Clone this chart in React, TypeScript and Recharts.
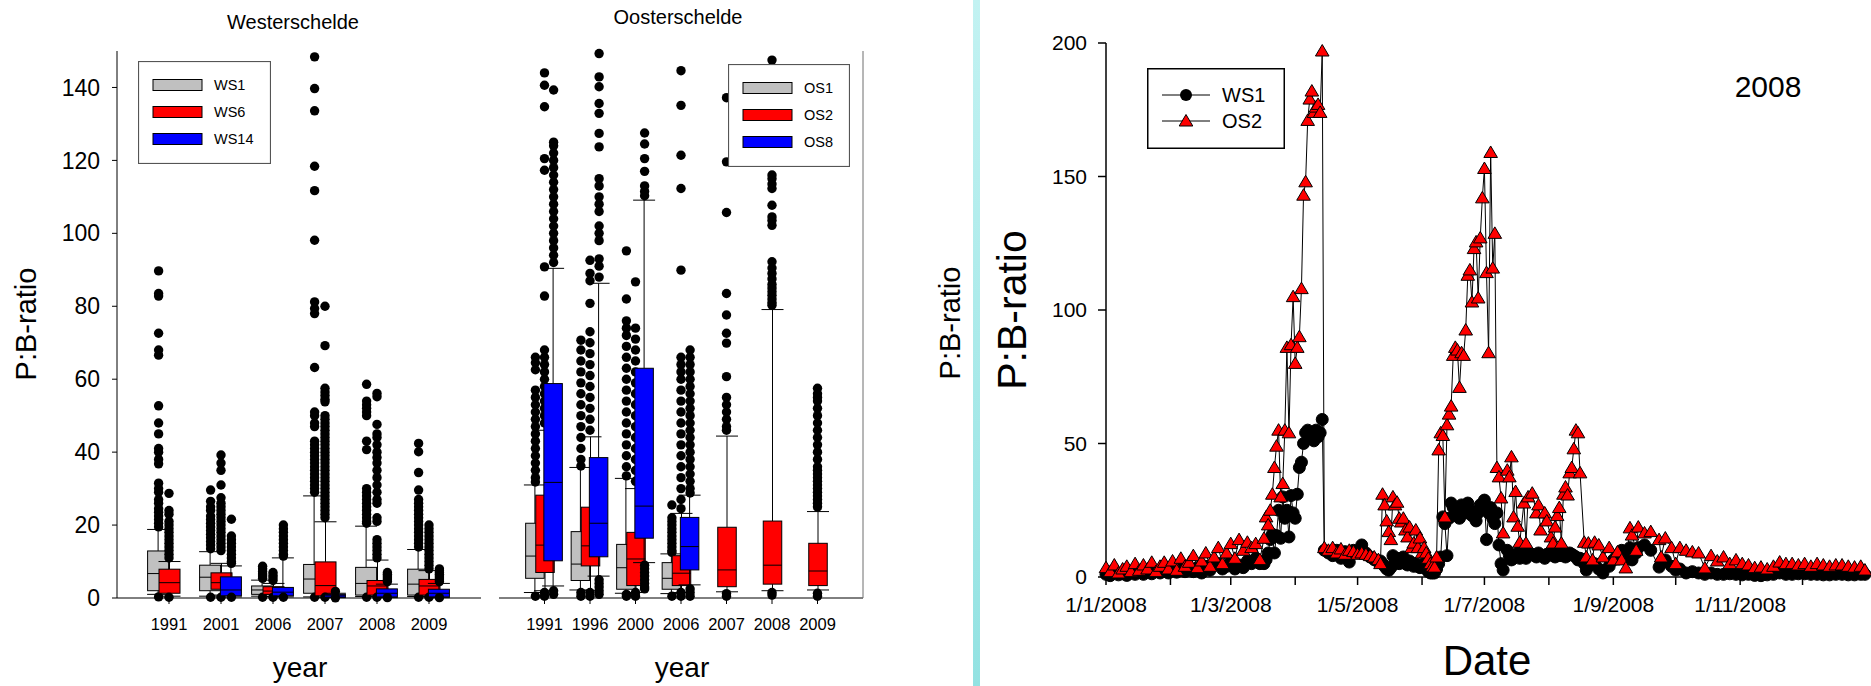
import React from 'react';
import { ComposedChart, Bar, Scatter, Line, XAxis, YAxis } from 'recharts';

const FONT = '"Liberation Sans", Arial, Helvetica, sans-serif';
const FRAME = '#6e6e6e';

// ---------- Westerschelde box plots ----------
const wsYears = ['1991', '2001', '2006', '2007', '2008', '2009'];
// [lower whisker, q1, median, q3, upper whisker]
const ws1Box = [
  [1.0, 2.0, 6.7, 12.9, 18.8], [0.5, 2.0, 5.7, 9.0, 12.7], [0.5, 1.0, 2.2, 3.3, 4.9],
  [0.3, 1.3, 5.2, 9.2, 28.0], [0.4, 0.8, 4.0, 8.4, 19.7], [0.4, 0.8, 3.8, 7.9, 13.3],
];
const ws6Box = [
  [0.5, 1.3, 4.2, 7.9, 10.0], [0.8, 2.4, 4.2, 6.9, 9.5], [0.4, 1.0, 1.9, 3.1, 4.0],
  [0.2, 0.6, 3.4, 9.9, 20.9], [0.3, 0.8, 3.3, 4.8, 10.4], [0.3, 0.8, 3.3, 5.1, 7.5],
];
const ws14Box = [
  null, [0.3, 0.6, 2.2, 5.8, 8.8], [0.3, 0.6, 1.6, 2.9, 11.0],
  [0.1, 0.2, 0.6, 1.0, 1.3], [0.1, 0.3, 1.3, 2.5, 3.8], [0.1, 0.3, 1.3, 2.4, 4.0],
];
const ws1Out = [
  [89.7, 83.5, 82.8, 72.6, 68, 66.6, 52.7, 48, 45, 41, 40, 38, 36.8, 31.5, 30, 29, 27, 26, 24.5, 23.5, 22.5, 21.5, 20.5, 19.5, 0.3],
  [29.6, 26.5, 25, 24, 22.5, 21.5, 20.5, 19.5, 18.5, 17.5, 16.5, 15.5, 14.5, 13.5, 0.2],
  [8.7, 8, 7.3, 6.6, 6, 5.4, 0.2],
  [148.4, 139.7, 133.6, 118.4, 111.7, 98.1, 81.2, 79.4, 78, 63.2, 51, 50, 48, 47, 43, 42, 41, 40, 39, 38, 37, 36, 35, 34, 33, 32, 31, 30, 29, 0.2],
  [58.6, 54, 53, 52, 51, 50, 43, 40.7, 30, 29, 28, 27, 26, 25, 24, 23, 22, 21, 20.5, 0.2],
  [42.4, 40.1, 34.4, 29.6, 27, 26, 25, 24, 23, 22, 21, 20, 19, 18, 17, 16, 15, 14, 0.2],
];
const ws6Out = [
  [28.7, 24, 23, 21, 20, 19, 18, 17, 16, 15, 14, 13, 12, 11, 0.2],
  [39.2, 37, 35, 31, 27.5, 26, 25, 24, 23, 22, 21, 20, 19, 18, 17, 16, 15, 14, 13, 0.2],
  [7, 6.2, 5.5, 4.8, 0.2],
  [80, 69.2, 57.5, 56.5, 55.5, 54.5, 53.8, 50, 49, 48, 47, 46, 45, 44, 43, 42, 41, 40, 39, 38, 37, 36, 35, 34, 33, 32, 31, 30, 29, 28, 27, 26, 25, 24, 23, 22, 0.2],
  [56.1, 55.2, 47.6, 45, 44, 42, 40, 38.5, 37, 35, 33, 31, 29, 27, 26, 22, 21, 16, 15, 14, 13, 12, 11, 0.2],
  [20, 19, 18, 17, 16, 15, 14, 13, 12, 11, 10, 9, 8, 0.2],
];
const ws14Out = [
  [],
  [21.6, 17, 16, 15, 14, 13, 12, 11, 10, 9.5, 0.2],
  [20, 19, 18, 17, 16, 15, 14, 13, 12, 11.5, 0.2],
  [1.8, 0.05],
  [7, 6.5, 6, 5.5, 5, 4.5, 0.1],
  [8, 7.5, 7, 6.5, 6, 5.5, 5, 4.5, 0.1],
];

// ---------- Oosterschelde box plots ----------
const osYears = ['1991', '1996', '2000', '2006', '2007', '2008', '2009'];
const os1Box = [
  [1.5, 5.4, 11.5, 20.5, 31], [2.2, 4.8, 9.3, 18.2, 35.8], [1.3, 2.4, 8.3, 14.7, 32.8],
  [1.2, 2.4, 5.4, 9.7, 12.1], null, null, null,
];
const os2Box = [
  [2.0, 7.0, 14.5, 28.2, 46], [2.0, 8.8, 14.3, 24.9, 44.2], [1.5, 3.4, 10.7, 18.0, 30],
  [1.5, 3.4, 6.8, 11.6, 23.2], [1.7, 3.1, 7.7, 19.4, 44.4], [2.0, 3.8, 9.0, 21.1, 79.1],
  [2.2, 3.4, 7.4, 15.0, 23.7],
];
const os8Box = [
  [3.3, 10.2, 31.7, 58.8, 90.4], [6.0, 11.3, 20.5, 38.5, 86.3], [9.7, 16.4, 25.2, 63.0, 109.1],
  [3.6, 7.7, 14.1, 22.1, 28.2], null, null, null,
];
const os1Out = [
  [66, 64.5, 62.6, 57, 55, 53, 51, 49, 47, 45, 43, 41, 39, 37, 35, 33, 31.8, 0.5],
  [70.7, 68, 65, 62, 59, 56, 53, 50, 47, 44, 41, 38, 36.2, 0.5, 1.5],
  [95.2, 82, 76, 74, 72, 69, 66, 63, 60, 57, 54, 51, 48, 45, 42, 39, 36, 33.5, 0.5, 1],
  [25.5, 22, 21, 20, 19, 18, 17, 16, 15, 14, 13, 12.5, 0.5],
  [], [], [],
];
const os2Out = [
  [144, 140.6, 134.7, 120.5, 117.3, 90.8, 82.8, 68, 66, 64, 62, 60, 58, 56, 54, 52, 50, 48, 0.5, 1.5],
  [92.6, 89, 87, 80.8, 73, 70, 67, 64, 61, 58, 55, 52, 49, 46, 0.5, 1.5],
  [86.7, 74, 71, 68, 65, 62, 59, 56, 53, 50, 47, 44, 41, 38, 35, 32, 0.5, 1.5],
  [144.6, 135.1, 121.4, 112.3, 89.9, 66, 64, 62, 60, 57, 54, 51, 48, 45, 42, 39, 36, 33, 30, 27, 24.5, 0.5, 1.5],
  [137.2, 119.6, 105.7, 83.5, 77.6, 72.6, 69.9, 60.7, 55, 53, 51, 49, 47, 46, 0.5, 1.2],
  [147.5, 116, 115, 113.5, 112.3, 107.7, 104.5, 103.5, 102.2, 92.2, 90.5, 89, 87.5, 86, 85, 84, 83, 82, 81, 80.3, 0.8, 1.5],
  [57.5, 56, 55, 54, 52, 50, 48, 46, 44, 42, 40, 38, 36, 35, 34, 33, 32, 31, 30, 29, 28, 27, 26, 25, 0.5, 1.3],
];
const os8Out = [
  [139.3, 125, 124, 122, 120, 118, 116, 114, 112, 110, 108, 106, 104, 102, 100, 98, 96, 94, 92, 1, 2],
  [149.3, 142.9, 140.2, 135.6, 132.9, 127.4, 123.7, 115, 113, 110, 108, 106, 102, 100, 98, 93, 91, 88, 5, 4, 3, 2, 1],
  [127.5, 124.5, 120.5, 117, 113, 111.5, 110.3, 9, 8, 7, 6, 5, 4, 3, 2.5],
  [68, 66, 64, 62, 60, 58, 56, 54, 52, 50, 48, 46, 44, 42, 40, 38, 36, 34, 32, 30, 28.8, 0.5, 1.5, 2.5],
  [], [], [],
];

const boxTicks = [0, 20, 40, 60, 80, 100, 120, 140];

// ---------- 2008 time series (day of year) ----------
const days = [
  0, 2, 4, 6, 8, 10, 12, 14, 16, 18, 20, 22, 24, 26, 28, 30, 32, 34, 36, 38, 40, 42, 44, 46, 48, 50, 52, 54, 56, 58, 60, 62, 64, 66, 68, 70, 72, 74,
  76, 77, 78, 79, 80, 81, 82, 83, 84, 85, 86, 87, 88, 89, 90, 91, 92, 93, 94, 95, 96, 97, 98, 99, 100, 101, 102, 103, 104, 105,
  107, 109, 111, 113, 115, 117, 119, 121, 123, 125, 127, 129, 131,
  132, 133, 134, 135, 136, 137, 138, 139, 140, 141, 142, 143, 144, 145, 146, 147, 148, 149, 150, 151, 152, 153, 154, 155, 156, 157,
  158, 159, 160, 161, 162, 163, 164, 165, 166, 167, 168, 169, 170, 171, 172, 173, 174, 175, 176, 177, 178, 179, 180, 181, 182, 183, 184, 185, 186, 187, 188, 189, 190,
  191, 193, 194, 195, 196, 197, 198, 199, 201, 202, 203, 205, 207, 208, 209, 211, 212, 214, 215, 216, 217, 218, 219, 220, 221, 222, 223, 224, 225, 226, 227, 228,
  230, 231, 232, 234, 235, 237, 239, 242, 244, 246, 248, 250, 252, 253, 255, 256, 259, 262, 266, 267, 269, 272, 274, 276, 279, 282, 285, 288,
  291, 294, 297, 300, 303, 306, 309, 312, 315, 318, 321, 324, 327, 330, 333, 336, 339, 342, 345, 348, 351, 354, 357, 360, 363, 365,
];
const ws1Ratio = [
  1, 0.5, 1.5, 0.8, 1.2, 0.6, 1.5, 1, 2, 1, 1.8, 1.2, 2, 1.5, 2.5, 1.5, 2.5, 1.8, 3, 2, 3.5, 2, 3.5, 1.5, 4, 2.5, 4.5, 5, 3, 4, 6, 3, 4.5, 3.5, 6, 5, 7, 5,
  5, 6.5, 9, 14, 16, 9, 15.5, 25, 14.5, 30, 22, 25, 15, 30.5, 24, 22, 31, 41, 43, 50, 54, 55, 52, 53, 51, 55, 52.5, 54, 59, 10,
  9, 8, 10, 7, 9.5, 5.6, 10, 9.5, 12, 9, 7.5, 6.5, 5.5,
  6, 5, 4, 3, 2.5, 3.5, 8, 6, 7, 5, 6, 7.5, 5, 4.5, 6, 5, 4, 5, 4, 3.5, 4, 5, 3, 2, 1.5, 1.5,
  1.5, 3, 5, 7.5, 22.5, 20, 8, 22, 27.7, 26, 24, 25, 22, 27, 26, 24, 27.7, 25, 23, 22.5, 21, 24, 27, 26, 28.8, 14, 24, 26, 22, 20, 24, 12, 5,
  2.6, 10, 8, 6.4, 7, 8, 9, 7, 8.5, 7, 9, 8.5, 7.5, 9, 8, 7, 8.5, 9, 8, 7.5, 8, 9, 8, 8.5, 7.5, 8, 9, 8.5, 8, 7.5, 6.4, 7,
  5, 2.6, 4, 5, 5, 3, 1.5, 4, 6.4, 8, 10, 8, 11, 6.4, 9, 11, 12, 10, 3.7, 5, 6.4, 4, 2.6, 3, 1.5, 2, 1.5, 1,
  1.5, 1, 1, 1.2, 1, 0.8, 1, 0.6, 0.5, 0.8, 1, 1.5, 1, 1, 1.2, 1.2, 1, 1, 0.8, 0.8, 1, 1, 0.8, 0.8, 1, 1,
];
const os2Ratio = [
  3.5, 2, 4.5, 1.5, 3, 4, 2, 5, 2.5, 4.5, 3, 5.5, 2, 4, 5.5, 3, 6, 2.5, 7, 4, 5.5, 8, 3.5, 6, 9, 4, 7.5, 11, 5, 9, 12.5, 7, 14, 10, 13, 11, 12.5, 6.5,
  14.5, 22.5, 19.5, 25, 31, 41, 49, 55, 30, 35, 55, 86, 54, 87, 105, 80, 86, 90, 108, 143, 148, 171, 179, 182, 174, 176, 177, 174, 197, 11,
  10, 11, 9, 10.5, 8.5, 10, 9.5, 8.5, 9, 8.5, 8, 7.5, 6.5,
  5, 31, 27, 21, 17, 14, 30, 27, 28, 22, 20.6, 22, 17.6, 15, 18.7, 11, 12.7, 17.6, 11, 14.6, 9, 11, 9, 7, 5, 4,
  3.7, 7.5, 47.6, 54, 53, 22.5, 57, 61, 64, 83, 86, 85, 71, 84, 83, 92.5, 113, 115, 103, 123, 125.5, 104.5, 127, 142, 153, 114, 84, 159, 115.7, 128.7, 41, 37.5, 29.6,
  16.5, 40, 37.5, 45, 22.5, 32, 19, 13, 27.7, 12.7, 30, 31.4, 24, 27, 17.6, 24, 21, 15, 12.7, 18.7, 23, 26, 12.7, 31, 33.7, 30.7, 39, 41, 48, 55, 54, 39,
  13, 7.5, 12.7, 6.4, 13, 12, 7.5, 11, 6.4, 9.4, 6.4, 3.4, 18.4, 15.7, 10, 18.7, 16.5, 17, 14, 7.5, 14.6, 11, 5, 11, 10, 9.4, 9, 3.4,
  8, 6, 7.5, 5, 6.4, 5, 4.5, 3.5, 3.7, 3, 4, 5.6, 5, 5, 4.5, 5, 4, 5, 4.5, 4, 4.5, 4.5, 4, 3.7, 4, 2.6,
];
const monthTicks = [0, 31, 60, 91, 121, 152, 182, 213, 244, 274, 305, 335];
const monthLabels = ['1/1/2008', '', '1/3/2008', '', '1/5/2008', '', '1/7/2008', '', '1/9/2008', '', '1/11/2008', ''];
const ratioTicks = [0, 50, 100, 150, 200];

// ---------- helpers ----------
type Stats = { lo: number; q1: number; med: number; q3: number; hi: number };
const toStats = (b: number[] | null): Stats | null =>
  b ? { lo: b[0], q1: b[1], med: b[2], q3: b[3], hi: b[4] } : null;

const buildRows = (years: string[], boxes: Record<string, (number[] | null)[]>) =>
  years.map((year, i) => {
    const row: any = { pos: i + 1, year };
    Object.keys(boxes).forEach((k) => (row[k] = toStats(boxes[k][i])));
    return row;
  });

const outlierPoints = (outs: number[][]) => outs.flatMap((vals, i) => vals.map((v) => ({ pos: i + 1, v })));

const CAP_W = 22;

const makeBoxShape = (key: string, fill: string, boxW: number) => (props: any) => {
  const s: Stats | null = props.payload ? props.payload[key] : null;
  if (!s || !Number.isFinite(props.y) || !Number.isFinite(props.height)) return <g />;
  const cx = props.x + props.width / 2;
  const yHi = Math.min(props.y, props.y + props.height);
  const yLo = Math.max(props.y, props.y + props.height);
  // linear y scale: place quartiles between the whisker ends given by the bar
  const py = (v: number) => yLo - ((v - s.lo) / (s.hi - s.lo)) * (yLo - yHi);
  const h = boxW / 2;
  const c = CAP_W / 2;
  return (
    <g>
      <line x1={cx} x2={cx} y1={yHi} y2={py(s.q3)} stroke="#000" />
      <line x1={cx} x2={cx} y1={py(s.q1)} y2={yLo} stroke="#000" />
      <line x1={cx - c} x2={cx + c} y1={yHi} y2={yHi} stroke="#000" />
      <line x1={cx - c} x2={cx + c} y1={yLo} y2={yLo} stroke="#000" />
      <rect x={cx - h} y={py(s.q3)} width={boxW} height={Math.max(py(s.q1) - py(s.q3), 0.5)} fill={fill} stroke="#000" />
      <line x1={cx - h} x2={cx + h} y1={py(s.med)} y2={py(s.med)} stroke="#000" />
    </g>
  );
};

const outlierDot = (p: any) => <circle cx={p.cx} cy={p.cy} r={4.7} fill="#000" />;

const wsRows = buildRows(wsYears, { ws1: ws1Box, ws6: ws6Box, ws14: ws14Box });
const osRows = buildRows(osYears, { os1: os1Box, os2: os2Box, os8: os8Box });

const wsStations = [
  { key: 'ws1', name: 'WS1', fill: '#c0c0c0', shift: -0.2, points: outlierPoints(ws1Out) },
  { key: 'ws6', name: 'WS6', fill: '#ff0000', shift: 0, points: outlierPoints(ws6Out) },
  { key: 'ws14', name: 'WS14', fill: '#0000ff', shift: 0.2, points: outlierPoints(ws14Out) },
];
const osStations = [
  { key: 'os1', name: 'OS1', fill: '#c0c0c0', shift: -0.2, points: outlierPoints(os1Out) },
  { key: 'os2', name: 'OS2', fill: '#ff0000', shift: 0, points: outlierPoints(os2Out) },
  { key: 'os8', name: 'OS8', fill: '#0000ff', shift: 0.2, points: outlierPoints(os8Out) },
];

const stationAxes = (stations: any[], max: number) =>
  stations.map((st) => (
    <XAxis
      key={'ax-' + st.key}
      xAxisId={st.key}
      type="number"
      dataKey={(d: any) => d.pos + st.shift}
      domain={[0, max]}
      hide
    />
  ));

const stationSeries = (stations: any[], boxW: number) =>
  stations.flatMap((st, i) => [
    <Bar
      key={'bar-' + st.key}
      xAxisId={st.key}
      dataKey={(d: any) => (d[st.key] ? [d[st.key].lo, d[st.key].hi] : null)}
      barSize={boxW}
      shape={makeBoxShape(st.key, st.fill, boxW)}
      isAnimationActive={false}
      zIndex={310 + i * 20}
    />,
    <Scatter
      key={'sc-' + st.key}
      xAxisId={st.key}
      data={st.points}
      dataKey="v"
      shape={outlierDot}
      isAnimationActive={false}
      zIndex={320 + i * 20}
    />,
  ]);

const wsCatTicks = wsYears.map((_, i) => i + 1);
const osCatTicks = osYears.map((_, i) => i + 1);

const circleDot = (p: any) => <circle key={'c' + p.index} cx={p.cx} cy={p.cy} r={6} fill="#000" stroke="#000" />;
const triangleDot = (p: any) => (
  <polygon
    key={'t' + p.index}
    points={`${p.cx},${p.cy - 6.5} ${p.cx - 6.8},${p.cy + 5} ${p.cx + 6.8},${p.cy + 5}`}
    fill="#ff0000"
    stroke="#000"
    strokeWidth={1}
  />
);

const seriesRows = days.map((day, i) => ({ day, ws1: ws1Ratio[i], os2: os2Ratio[i] }));

function BoxLegend({ left, top, w, h, stations, rowY, swX, txtX, border }: any) {
  return (
    <svg style={{ position: 'absolute', left, top }} width={w} height={h}>
      <rect x={0.5} y={0.5} width={w - 1} height={h - 1} fill="#fff" stroke={border} strokeWidth={1.2} />
      {stations.map((st: any, i: number) => (
        <g key={st.key}>
          <rect x={swX} y={rowY[i] - 5.5} width={49} height={11} fill={st.fill} stroke="#000" />
          <text x={txtX} y={rowY[i] + 5} fontSize={14.5} fill="#000">
            {st.name}
          </text>
        </g>
      ))}
    </svg>
  );
}

export default function App() {
  return (
    <div
      style={{
        position: 'absolute',
        left: 0,
        top: 0,
        width: 1871,
        height: 686,
        background: '#fff',
        fontFamily: FONT,
        overflow: 'hidden',
      }}
    >
      {/* Westerschelde */}
      <div style={{ position: 'absolute', left: 0, top: 0 }}>
        <ComposedChart width={490} height={686} data={wsRows} margin={{ top: 51, right: 9, bottom: 48, left: 57 }}>
          <XAxis xAxisId="top" orientation="top" type="number" domain={[0, 7]} height={0} tick={false} tickLine={false} axisLine={{ stroke: FRAME }} />
          <YAxis yAxisId="right" orientation="right" type="number" domain={[0, 150]} width={0} tick={false} tickLine={false} axisLine={{ stroke: FRAME }} />
          {stationAxes(wsStations, 7)}
          <XAxis
            xAxisId="cat"
            type="number"
            dataKey="pos"
            domain={[0, 7]}
            ticks={wsCatTicks}
            interval={0}
            tickFormatter={(v: number) => wsYears[v - 1]}
            height={40}
            tickSize={6}
            tickMargin={14}
            tick={{ fontSize: 16.5, fill: '#000' }}
            axisLine={{ stroke: '#000' }}
            tickLine={{ stroke: '#000' }}
          />
          <YAxis
            type="number"
            domain={[0, 150]}
            ticks={boxTicks}
            interval={0}
            width={60}
            tickSize={5}
            tickMargin={12}
            tick={{ fontSize: 23, fill: '#000' }}
            axisLine={{ stroke: '#000' }}
            tickLine={{ stroke: '#000' }}
          />
          {stationSeries(wsStations, 21)}
        </ComposedChart>
      </div>

      {/* Oosterschelde */}
      <div style={{ position: 'absolute', left: 490, top: 0 }}>
        <ComposedChart width={480} height={686} data={osRows} margin={{ top: 51, right: 47, bottom: 48, left: 9 }}>
          <XAxis xAxisId="top" orientation="top" type="number" domain={[0, 8]} height={0} tick={false} tickLine={false} axisLine={{ stroke: FRAME }} />
          {stationAxes(osStations, 8)}
          <XAxis
            xAxisId="cat"
            type="number"
            dataKey="pos"
            domain={[0, 8]}
            ticks={osCatTicks}
            interval={0}
            tickFormatter={(v: number) => osYears[v - 1]}
            height={40}
            tickSize={6}
            tickMargin={14}
            tick={{ fontSize: 16.5, fill: '#000' }}
            axisLine={{ stroke: '#000' }}
            tickLine={{ stroke: '#000' }}
          />
          <YAxis
            type="number"
            domain={[0, 150]}
            ticks={boxTicks}
            interval={0}
            width={0}
            tickSize={4}
            tick={false}
            axisLine={{ stroke: '#555', strokeWidth: 1.2 }}
            tickLine={{ stroke: '#555' }}
          />
          <YAxis
            yAxisId="right"
            orientation="right"
            type="number"
            domain={[0, 150]}
            ticks={boxTicks}
            interval={0}
            width={60}
            tickSize={0}
            tickMargin={12}
            tickLine={false}
            tick={{ fontSize: 23, fill: '#000' }}
            axisLine={{ stroke: FRAME }}
          />
          {stationSeries(osStations, 18.5)}
        </ComposedChart>
      </div>

      {/* divider stripe */}
      <div
        style={{
          position: 'absolute',
          left: 973,
          top: 0,
          width: 7,
          height: 686,
          background: 'linear-gradient(#c2f2f2, #93e2e2)',
        }}
      />

      {/* 2008 time series */}
      <div style={{ position: 'absolute', left: 980, top: 0 }}>
        <ComposedChart width={891} height={686} data={seriesRows} margin={{ top: 43, right: 4, bottom: 59, left: 56 }}>
          <XAxis xAxisId="top" orientation="top" type="number" domain={[0, 366]} height={0} tick={false} tickLine={false} axisLine={{ stroke: '#333', strokeWidth: 1.5 }} />
          <YAxis yAxisId="right" orientation="right" type="number" domain={[0, 200]} width={0} tick={false} tickLine={false} axisLine={{ stroke: '#333', strokeWidth: 1.5 }} />
          <XAxis
            xAxisId="date"
            type="number"
            dataKey="day"
            domain={[0, 366]}
            ticks={monthTicks}
            interval={0}
            tickFormatter={(v: number) => monthLabels[monthTicks.indexOf(v)]}
            height={50}
            tickSize={8}
            tickMargin={12}
            tick={{ fontSize: 21, fill: '#000' }}
            axisLine={{ stroke: '#000', strokeWidth: 1.5 }}
            tickLine={{ stroke: '#000', strokeWidth: 1.5 }}
          />
          <YAxis
            type="number"
            domain={[0, 200]}
            ticks={ratioTicks}
            interval={0}
            width={70}
            tickSize={8}
            tickMargin={11}
            tick={{ fontSize: 21, fill: '#000' }}
            axisLine={{ stroke: '#000', strokeWidth: 1.5 }}
            tickLine={{ stroke: '#000', strokeWidth: 1.5 }}
          />
          <Line xAxisId="date" type="linear" dataKey="ws1" stroke="#000" strokeWidth={1} dot={circleDot} activeDot={false} isAnimationActive={false} zIndex={410} />
          <Line xAxisId="date" type="linear" dataKey="os2" stroke="#000" strokeWidth={1} dot={triangleDot} activeDot={false} isAnimationActive={false} zIndex={420} />
        </ComposedChart>
      </div>

      {/* legends */}
      <BoxLegend left={138} top={61} w={133} h={103} stations={wsStations} rowY={[24, 51, 78]} swX={15} txtX={76} border="#555" />
      <BoxLegend left={728} top={64} w={122} h={103} stations={osStations} rowY={[24, 51, 78]} swX={15} txtX={76} border="#555" />
      <svg style={{ position: 'absolute', left: 1147, top: 68 }} width={138} height={81}>
        <rect x={0.75} y={0.75} width={136.5} height={79.5} fill="#fff" stroke="#000" strokeWidth={1.5} />
        <line x1={15} x2={63} y1={27} y2={27} stroke="#000" />
        <circle cx={39} cy={27} r={6} fill="#000" />
        <text x={75} y={34} fontSize={20} fill="#000">WS1</text>
        <line x1={15} x2={63} y1={53} y2={53} stroke="#000" />
        <polygon points="39,46.5 32.2,58 45.8,58" fill="#ff0000" stroke="#000" />
        <text x={75} y={60} fontSize={20} fill="#000">OS2</text>
      </svg>

      {/* titles and axis labels */}
      <svg style={{ position: 'absolute', left: 0, top: 0, pointerEvents: 'none' }} width={1871} height={686}>
        <text x={293} y={29} fontSize={20} textAnchor="middle" fill="#000">Westerschelde</text>
        <text x={678} y={24} fontSize={20} textAnchor="middle" fill="#000">Oosterschelde</text>
        <text transform="translate(36,324) rotate(-90)" fontSize={29} textAnchor="middle" fill="#000">P:B-ratio</text>
        <text transform="translate(960,323) rotate(-90)" fontSize={29} textAnchor="middle" fill="#000">P:B-ratio</text>
        <text x={300} y={677} fontSize={28} textAnchor="middle" fill="#000">year</text>
        <text x={682} y={677} fontSize={28} textAnchor="middle" fill="#000">year</text>
        <text transform="translate(1026,310) rotate(-90)" fontSize={41} textAnchor="middle" fill="#000">P:B-ratio</text>
        <text x={1487} y={675} fontSize={42} textAnchor="middle" fill="#000">Date</text>
        <text x={1768} y={97} fontSize={30} textAnchor="middle" fill="#000">2008</text>
      </svg>
    </div>
  );
}
